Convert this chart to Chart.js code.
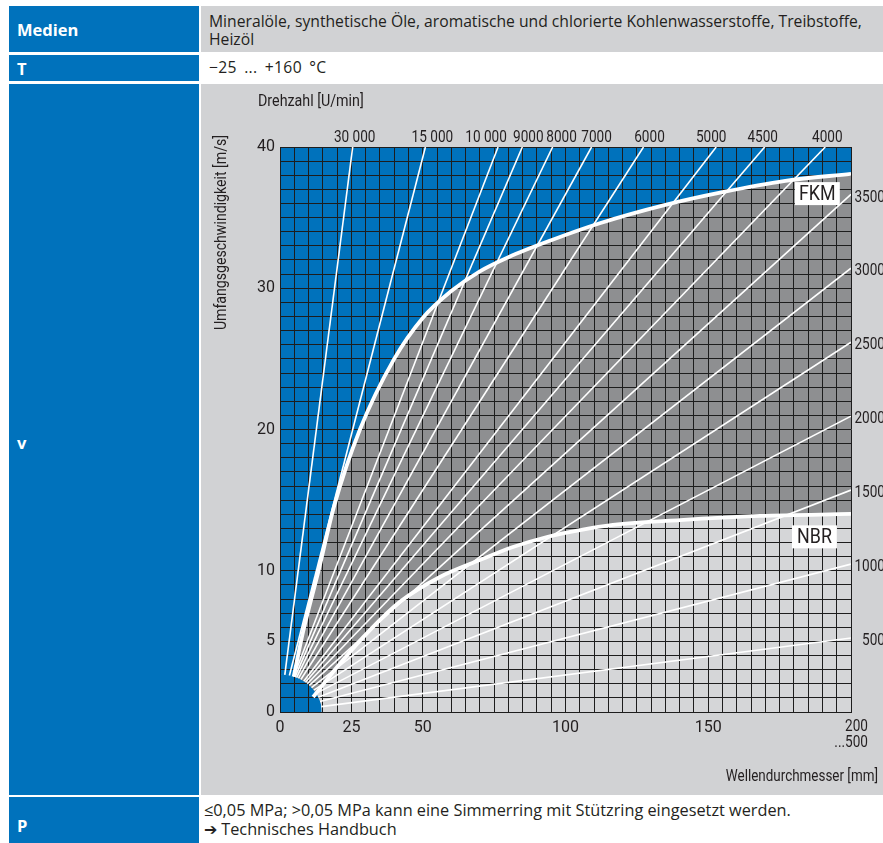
<!DOCTYPE html>
<html lang="de">
<head>
<meta charset="utf-8">
<title>Simmerring – Umfangsgeschwindigkeit</title>
<script src="https://cdn.jsdelivr.net/npm/chart.js"></script>
<style>
  html, body { margin: 0; padding: 0; background: #fff; }
  body { width: 883px; height: 843px; position: relative; overflow: hidden;
         font-family: 'Open Sans', 'Lato', sans-serif; color: #231f20; }
  .lab { position: absolute; left: 9px; width: 190px; background: #0072bc; color: #fff;
         font-weight: 700; font-size: 16.5px; }
  .lab span { position: absolute; left: 8px; }
  .cell { position: absolute; left: 201px; width: 682px; }
  .gray { background: #d1d2d4; }
  .txt { position: absolute; left: 8px; font-size: 15.7px; line-height: 18px; white-space: nowrap; }
  #wrap { position: absolute; left: 201px; top: 84px; width: 682px; height: 711px; }
</style>
</head>
<body>
  <div class="lab" style="top:6px;height:46px"><span style="top:12px">Medien</span></div>
  <div class="cell gray" style="top:6px;height:46px">
    <div class="txt" style="top:6px">Mineralöle, synthetische Öle, aromatische und chlorierte Kohlenwasserstoffe, Treibstoffe,<br>Heizöl</div>
  </div>

  <div class="lab" style="top:55px;height:26px"><span style="top:2px">T</span></div>
  <div class="cell" style="top:55px;height:26px">
    <div class="txt" style="top:3px;word-spacing:3px;letter-spacing:0.3px">−25 ... +160 °C</div>
  </div>

  <div class="lab" style="top:84px;height:711px"><span style="top:347px">v</span></div>
  <div class="cell gray" style="top:84px;height:711px"></div>
  <div id="wrap"><canvas id="chart" width="682" height="711"></canvas></div>

  <div class="lab" style="top:797px;height:46px"><span style="top:17px">P</span></div>
  <div class="cell" style="top:797px;height:46px">
    <div class="txt" style="top:4px;left:3px;font-size:16.3px;line-height:19px">≤0,05 MPa; &gt;0,05 MPa kann eine Simmerring mit Stützring eingesetzt werden.<br>➔ Technisches Handbuch</div>
  </div>

<script>
// Shaft speed lines (Drehzahl): start on the small-diameter arc, end at the chart border
const rpm        = [30000, 15000, 10000, 9000, 8000, 7000, 6000, 5000, 4500, 4000, 3500, 3000, 2500, 2000, 1500, 1000, 500];
const rpmLabels  = ['30 000', '15 000', '10 000', '9000', '8000', '7000', '6000', '5000', '4500', '4000', '3500', '3000', '2500', '2000', '1500', '1000', '500'];
const lineStartD = [1.68, 3.29, 4.78, 5.25, 5.81, 6.48, 7.30, 8.32, 8.91, 9.56, 10.27, 11.04, 11.84, 12.65, 13.40, 14.03, 14.45];
const lineStartV = [2.63, 2.58, 2.50, 2.47, 2.43, 2.38, 2.30, 2.18, 2.10, 2.00, 1.88, 1.73, 1.55, 1.32, 1.05, 0.74, 0.38];
const lineEndD   = [25.46, 50.93, 76.39, 84.88, 95.49, 109.13, 127.32, 152.79, 169.77, 190.99, 200, 200, 200, 200, 200, 200, 200];
const lineEndV   = [40, 40, 40, 40, 40, 40, 40, 40, 40, 40, 36.65, 31.42, 26.18, 20.94, 15.71, 10.47, 5.24];

// Permissible circumferential speed, FKM
const fkmD = [4.8, 8.0, 13.5, 19.0, 28.0, 40.0, 50.0, 60.0, 70.0, 80.0, 95.0, 112.0, 135.0, 155.0, 177.0, 200.0];
const fkmV = [2.5, 5.6, 10.0, 14.6, 20.0, 25.0, 27.9, 29.8, 31.2, 32.2, 33.4, 34.6, 35.9, 36.8, 37.6, 38.1];

// Permissible circumferential speed, NBR
const nbrD = [11.6, 20.0, 31.5, 42.0, 56.0, 70.0, 81.6, 93.5, 105.1, 116.6, 140.1, 168.1, 200.0];
const nbrV = [1.06, 3.19, 5.8, 7.8, 9.56, 10.76, 11.68, 12.39, 12.88, 13.24, 13.59, 13.88, 14.02];

// Lower-left boundary (minimum diameter)
const arcD = [0, 3, 6, 8, 10, 11.5, 12.5, 13.5, 14.1, 14.5, 14.6];
const arcV = [2.65, 2.59, 2.42, 2.22, 1.93, 1.63, 1.37, 1.01, 0.69, 0.31, 0];

// Axis ticks
const xTickLabels = [0, 25, 50, 100, 150, 200];
const yTickLabels = [0, 5, 10, 20, 30, 40];
const xGridStep = 5, yGridStep = 1;
const xMax = 200, yMax = 40;

const BLUE = '#0072bc', DARK = '#8e8f91', LIGHT = '#d5d6d8', GRID = '#1d1d1d', INK = '#231f20';
const FONT = "'Roboto', 'Liberation Sans', sans-serif";

const pts = (xs, ys) => xs.map((x, i) => ({ x, y: ys[i] }));
const steps = (max, step) => { const a = []; for (let v = 0; v <= max + 1e-9; v += step) a.push({ value: v }); return a; };

const speedSets = rpm.map((n, i) => ({
  label: rpmLabels[i],
  data: [{ x: lineStartD[i], y: lineStartV[i] }, { x: lineEndD[i], y: lineEndV[i] }],
  borderColor: '#ffffff', borderWidth: 1.6, pointRadius: 0, fill: false, order: 2
}));

const datasets = [
  { label: 'gesperrt', data: [{ x: 0, y: arcV[0] }].concat(pts(fkmD, fkmV)),
    borderWidth: 0, borderColor: 'rgba(0,0,0,0)', pointRadius: 0,
    cubicInterpolationMode: 'monotone', fill: 'end', backgroundColor: BLUE, order: 6 },
  { label: 'FKM', data: pts(fkmD, fkmV), borderColor: '#ffffff', borderWidth: 3.8, pointRadius: 0,
    cubicInterpolationMode: 'monotone', fill: 'origin', backgroundColor: DARK, order: 5 },
  { label: 'NBR', data: pts(nbrD, nbrV), borderColor: '#ffffff', borderWidth: 3.8, pointRadius: 0,
    cubicInterpolationMode: 'monotone', fill: 'origin', backgroundColor: LIGHT, order: 4 },
  { label: 'dmin', data: pts(arcD, arcV), borderWidth: 0, borderColor: 'rgba(0,0,0,0)', pointRadius: 0,
    cubicInterpolationMode: 'monotone', fill: 'origin', backgroundColor: BLUE, order: 3 },
  ...speedSets
];

// narrow text: horizontally compressed glyphs
function narrow(ctx, text, x, y, align, sx) {
  ctx.save();
  ctx.translate(x, y);
  ctx.scale(sx, 1);
  ctx.textAlign = align;
  ctx.fillText(text, 0, 0);
  ctx.restore();
}

// Texts around the plot: titles, rpm labels, material tags
const annotate = {
  id: 'annotate',
  afterDraw(chart) {
    const { ctx, chartArea: a, scales: { x, y } } = chart;
    ctx.save();
    ctx.fillStyle = INK;
    ctx.font = `17px ${FONT}`;
    ctx.textBaseline = 'middle';

    const nudge = { 30000: 2, 15000: 7, 10000: -12, 9000: 6, 8000: 9, 7000: 5, 6000: 6, 5000: -5, 4500: -2, 4000: 2 };
    rpm.forEach((n, i) => {
      if (lineEndV[i] >= yMax) {
        narrow(ctx, rpmLabels[i], x.getPixelForValue(lineEndD[i]) + (nudge[n] || 0), a.top - 9, 'center', 0.8);
      } else {
        narrow(ctx, rpmLabels[i], a.right + 34, y.getPixelForValue(lineEndV[i]) + 3, 'right', 0.8);
      }
    });

    // axis titles
    narrow(ctx, 'Drehzahl [U/min]', 57, 18, 'left', 0.84);
    narrow(ctx, 'Wellendurchmesser [mm]', 677, 693, 'right', 0.79);
    narrow(ctx, '200', x.getPixelForValue(200) + 17, a.bottom + 15, 'right', 0.8);
    narrow(ctx, '...500', x.getPixelForValue(200) + 17, a.bottom + 31, 'right', 0.8);
    ctx.save();
    ctx.translate(21, 51);
    ctx.rotate(-Math.PI / 2);
    narrow(ctx, 'Umfangsgeschwindigkeit [m/s]', 0, 0, 'right', 0.83);
    ctx.restore();

    // material tags
    ctx.font = `21px ${FONT}`;
    [['FKM', 188.2, 36.7], ['NBR', 187.2, 12.4]].forEach(([t, d, v]) => {
      const cx = x.getPixelForValue(d), cy = y.getPixelForValue(v);
      ctx.fillStyle = '#ffffff';
      ctx.fillRect(cx - 22.5, cy - 11.5, 45, 23);
      ctx.fillStyle = INK;
      narrow(ctx, t, cx, cy + 1, 'center', 0.85);
    });
    ctx.restore();
  }
};

new Chart(document.getElementById('chart'), {
  type: 'line',
  data: { datasets },
  options: {
    responsive: false,
    devicePixelRatio: 1,
    animation: false,
    events: [],
    layout: { padding: { top: 63, right: 32, bottom: 0, left: 0 } },
    plugins: {
      legend: { display: false },
      tooltip: { enabled: false },
      filler: { drawTime: 'beforeDraw' }
    },
    scales: {
      x: {
        type: 'linear', min: 0, max: xMax,
        afterBuildTicks: s => { s.ticks = steps(xMax, xGridStep); },
        afterFit: s => { s.height = 83; },
        grid: { color: GRID, lineWidth: 1, drawTicks: false },
        border: { color: GRID, width: 1 },
        ticks: {
          autoSkip: false, maxRotation: 0, padding: 6, color: INK,
          font: { family: FONT, size: 16 },
          callback: v => (xTickLabels.includes(v) && v !== xMax) ? String(v) : ''
        }
      },
      y: {
        type: 'linear', min: 0, max: yMax,
        afterBuildTicks: s => { s.ticks = steps(yMax, yGridStep); },
        afterFit: s => { s.width = 79; },
        grid: { color: GRID, lineWidth: 1, drawTicks: false },
        border: { color: GRID, width: 1 },
        ticks: {
          autoSkip: false, padding: 5, color: INK,
          font: { family: FONT, size: 16 },
          callback: v => yTickLabels.includes(v) ? String(v) : ''
        }
      }
    }
  },
  plugins: [annotate]
});
</script>
</body>
</html>
